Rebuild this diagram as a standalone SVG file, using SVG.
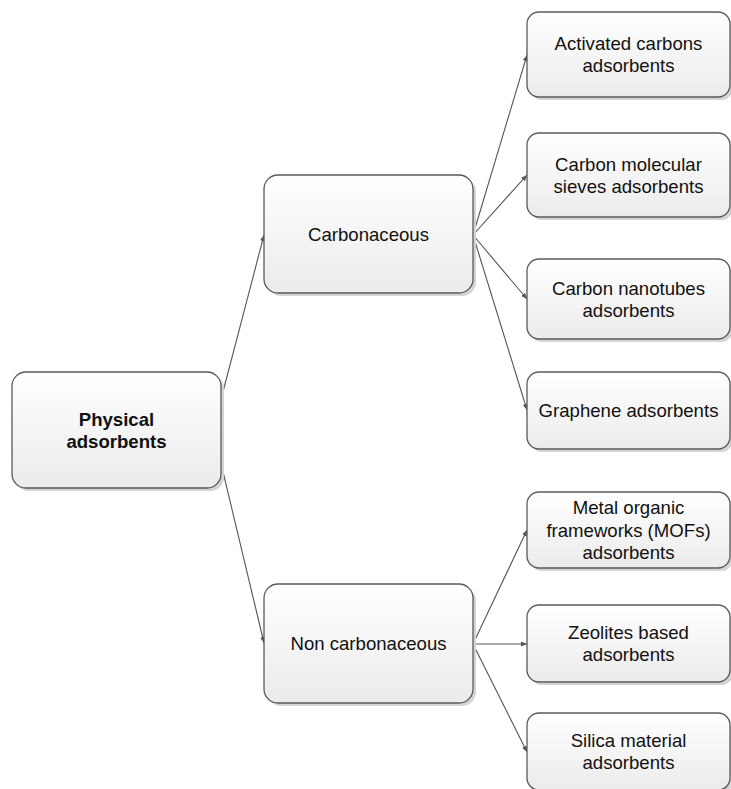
<svg xmlns="http://www.w3.org/2000/svg" width="731" height="789" viewBox="0 0 731 789">
<style>
.box{fill:url(#g);stroke:#5a5a5a;stroke-width:1.3}
.sh{fill:#d4d4d4}
.t{font-family:"Liberation Sans",Arial,sans-serif;font-size:18.6px;fill:#111;text-anchor:middle}
.b{font-weight:bold}
.c{fill:none;stroke:#555;stroke-width:1.1;marker-end:url(#a)}
</style>
<defs>
<linearGradient id="g" x1="0" y1="0" x2="0" y2="1">
<stop offset="0" stop-color="#ffffff"/>
<stop offset="1" stop-color="#ebebeb"/>
</linearGradient>
<marker id="a" markerUnits="userSpaceOnUse" markerWidth="7" markerHeight="6" refX="6" refY="3" orient="auto">
<path d="M0,0.5 L6,3 L0,5.5 z" fill="#555"/>
</marker>
</defs>
<rect width="731" height="789" fill="#fff"/>
<g id="connectors">
<line class="c" x1="213" y1="430" x2="264" y2="235"/>
<line class="c" x1="213" y1="430" x2="264" y2="643"/>
<line class="c" x1="473" y1="235" x2="527" y2="55"/>
<line class="c" x1="473" y1="235" x2="527" y2="175"/>
<line class="c" x1="473" y1="235" x2="527" y2="299"/>
<line class="c" x1="473" y1="235" x2="527" y2="410"/>
<line class="c" x1="473" y1="644" x2="527" y2="530"/>
<line class="c" x1="473" y1="644" x2="527" y2="644"/>
<line class="c" x1="473" y1="644" x2="527" y2="752"/>
</g>
<g id="physical">
<rect class="sh" x="15" y="375" width="209" height="116" rx="14"/>
<rect class="box" x="12" y="372" width="209" height="116" rx="14"/>
<text class="t b" x="116.5" y="425.5">Physical</text>
<text class="t b" x="116.5" y="448">adsorbents</text>
</g>
<g id="carbonaceous">
<rect class="sh" x="267" y="178" width="209" height="118" rx="14"/>
<rect class="box" x="264" y="175" width="209" height="118" rx="14"/>
<text class="t" x="368.5" y="240.7">Carbonaceous</text>
</g>
<g id="noncarbonaceous">
<rect class="sh" x="267" y="587" width="209" height="119" rx="14"/>
<rect class="box" x="264" y="584" width="209" height="119" rx="14"/>
<text class="t" x="368.5" y="650.2">Non carbonaceous</text>
</g>
<g id="activated">
<rect class="sh" x="530" y="15" width="203" height="85" rx="12"/>
<rect class="box" x="527" y="12" width="203" height="85" rx="12"/>
<text class="t" x="628.5" y="50">Activated carbons</text>
<text class="t" x="628.5" y="72.4">adsorbents</text>
</g>
<g id="cms">
<rect class="sh" x="530" y="136" width="203" height="84" rx="12"/>
<rect class="box" x="527" y="133" width="203" height="84" rx="12"/>
<text class="t" x="628.5" y="170.5">Carbon molecular</text>
<text class="t" x="628.5" y="192.9">sieves adsorbents</text>
</g>
<g id="cnt">
<rect class="sh" x="530" y="262" width="203" height="80" rx="12"/>
<rect class="box" x="527" y="259" width="203" height="80" rx="12"/>
<text class="t" x="628.5" y="294.5">Carbon nanotubes</text>
<text class="t" x="628.5" y="316.9">adsorbents</text>
</g>
<g id="graphene">
<rect class="sh" x="530" y="375" width="203" height="77" rx="12"/>
<rect class="box" x="527" y="372" width="203" height="77" rx="12"/>
<text class="t" x="628.5" y="417.2">Graphene adsorbents</text>
</g>
<g id="mof">
<rect class="sh" x="530" y="495" width="203" height="76" rx="12"/>
<rect class="box" x="527" y="492" width="203" height="76" rx="12"/>
<text class="t" x="628.5" y="514.3">Metal organic</text>
<text class="t" x="628.5" y="536.7">frameworks (MOFs)</text>
<text class="t" x="628.5" y="559.1">adsorbents</text>
</g>
<g id="zeolites">
<rect class="sh" x="530" y="608" width="203" height="77" rx="12"/>
<rect class="box" x="527" y="605" width="203" height="77" rx="12"/>
<text class="t" x="628.5" y="639">Zeolites based</text>
<text class="t" x="628.5" y="661.4">adsorbents</text>
</g>
<g id="silica">
<rect class="sh" x="530" y="716" width="203" height="77" rx="12"/>
<rect class="box" x="527" y="713" width="203" height="77" rx="12"/>
<text class="t" x="628.5" y="747">Silica material</text>
<text class="t" x="628.5" y="769.4">adsorbents</text>
</g>
</svg>
